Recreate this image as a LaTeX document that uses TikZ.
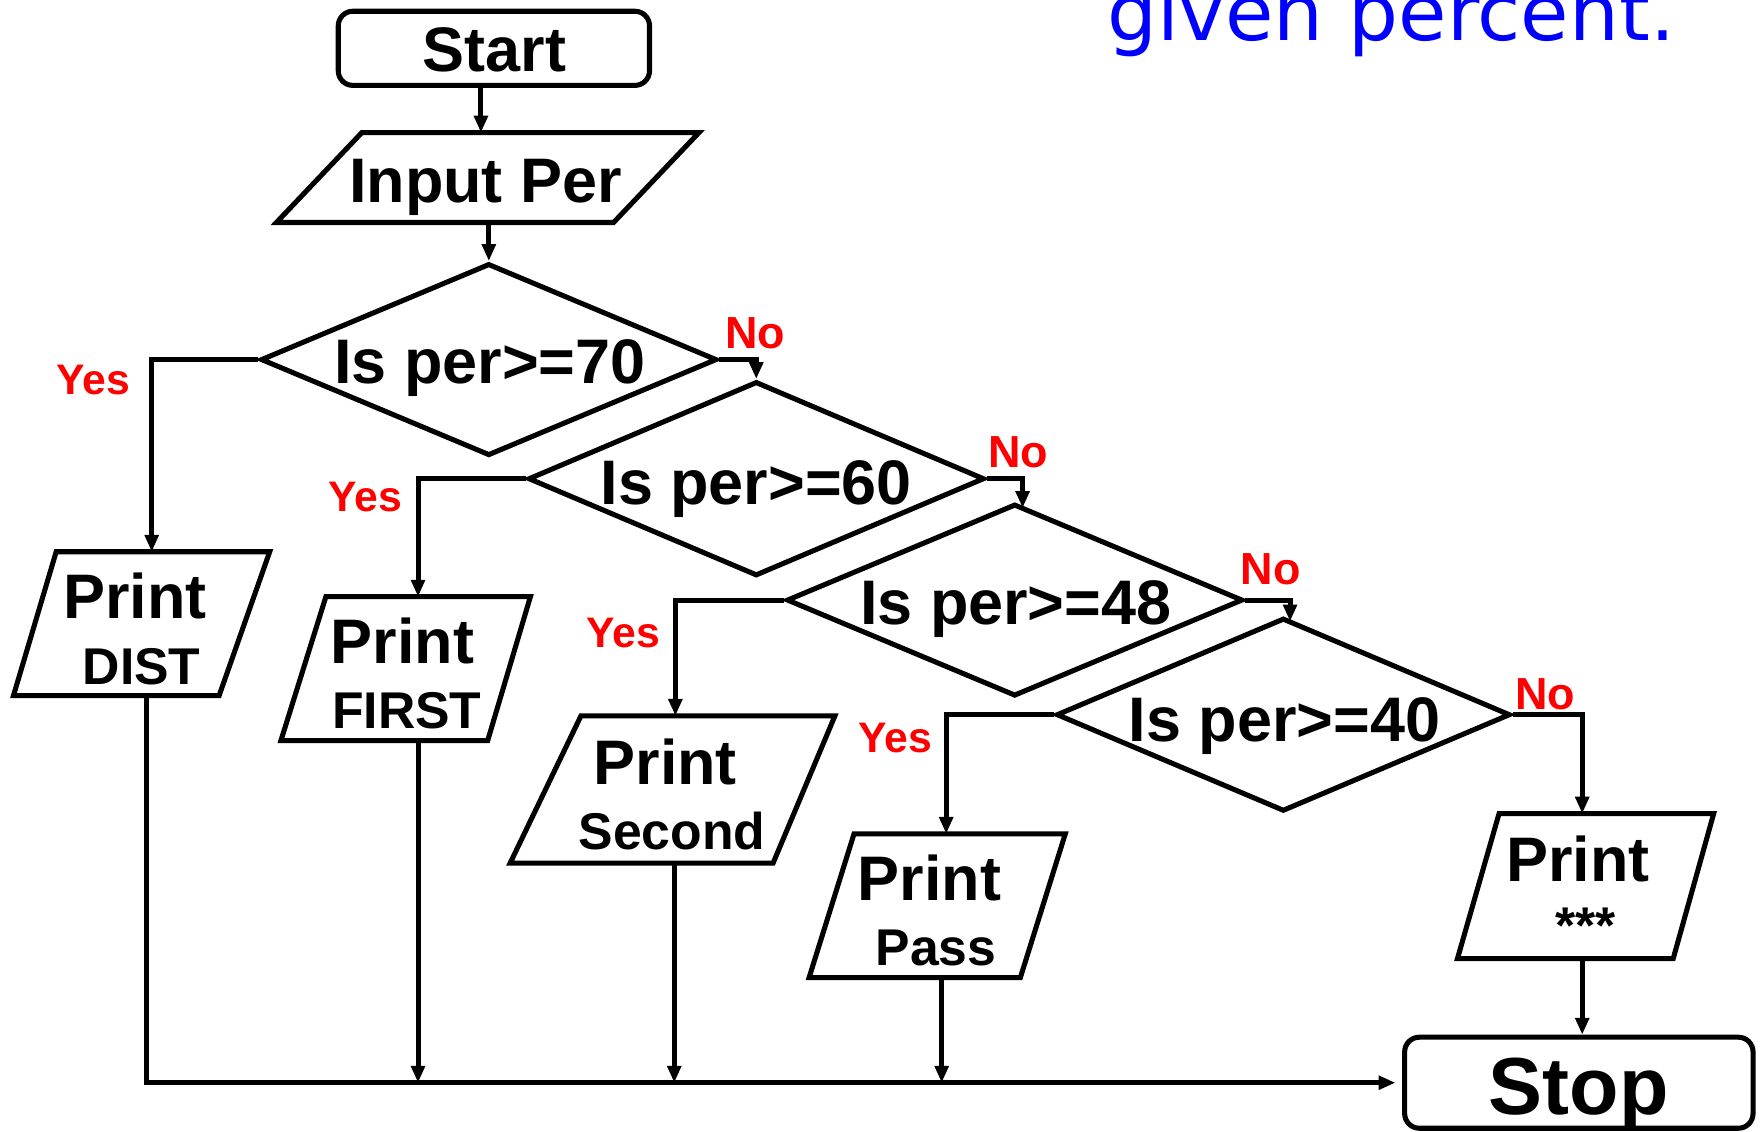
\documentclass[tikz,border=0pt]{standalone}
\usepackage{fontspec}
\setmainfont{Liberation Sans}
\newfontfamily\titlefont{DejaVu Sans}
\usetikzlibrary{arrows.meta,shapes.geometric}
\definecolor{lblred}{RGB}{255,0,0}
\definecolor{titleblue}{RGB}{0,0,255}
\begin{document}
\begin{tikzpicture}[x=1pt,y=-1pt,
  lw/.style={line width=4.5pt},
  term/.style={draw,lw,rounded corners=13pt,inner sep=0pt},
  dec/.style={draw,lw,diamond,inner sep=0pt},
  io/.style={draw,lw},
  flow/.style={lw,-{Triangle[length=15pt,width=12pt]}},
  plainline/.style={lw},
  bigtxt/.style={font=\fontsize{56}{60}\selectfont\bfseries,inner sep=0pt,anchor=base},
  smalltxt/.style={font=\fontsize{46}{50}\selectfont\bfseries,inner sep=0pt,anchor=base},
  hugetxt/.style={font=\fontsize{72}{76}\selectfont\bfseries,inner sep=0pt,anchor=base},
  yeslbl/.style={font=\fontsize{38}{40}\selectfont\bfseries,text=lblred,inner sep=0pt,anchor=base},
  nolbl/.style={font=\fontsize{40}{42}\selectfont\bfseries,text=lblred,inner sep=0pt,anchor=base},
]
\clip (0,0) rectangle (1568,1007);

% title (cut at the top)
\node[font=\titlefont\fontsize{70}{80}\selectfont,text=titleblue,anchor=base west,inner sep=0pt] (title) at (985,36) {given percent.};

% terminals
\node[term,minimum width=277pt,minimum height=66pt] (start) at (439.5,43) {};
\node[bigtxt] (startT) at (440,64) {Start};
\node[term,minimum width=310pt,minimum height=81pt] (stop) at (1405,963.5) {};
\node[hugetxt] (stopT) at (1405,992) {Stop};

% input
\draw[io] (322,118) -- (622,118) -- (546,198) -- (246,198) -- cycle;
\node[bigtxt] (inT) at (432,180) {Input Per};
\coordinate (in-top) at (428,118);
\coordinate (in-bot) at (435,196);

% decisions
\node[dec,minimum width=406pt,minimum height=171pt] (d1) at (435,320) {};
\node[bigtxt] (d1T) at (436,341) {Is per>=70};
\node[dec,minimum width=406pt,minimum height=173pt] (d2) at (673,426) {};
\node[bigtxt] (d2T) at (673,449) {Is per>=60};
\node[dec,minimum width=406pt,minimum height=171pt] (d3) at (903,534) {};
\node[bigtxt] (d3T) at (904,556) {Is per>=48};
\node[dec,minimum width=404pt,minimum height=172pt] (d4) at (1142,636) {};
\node[bigtxt] (d4T) at (1143,660) {Is per>=40};
\coordinate (d3-in) at (910,452);
\coordinate (d4-in) at (1148,553);

% outputs
\draw[io] (50,491) -- (240,491) -- (195,619) -- (12,619) -- cycle;
\node[bigtxt] (distP) at (120,550) {Print};
\node[smalltxt] (distT) at (126,609) {DIST};
\coordinate (dist-top) at (135,491);
\coordinate (dist-bot) at (130,619);

\draw[io] (290,531) -- (472,531) -- (434,659) -- (250,659) -- cycle;
\node[bigtxt] (firstP) at (358,590) {Print};
\node[smalltxt] (firstT) at (362,648) {FIRST};
\coordinate (first-top) at (372,531);
\coordinate (first-bot) at (372,659);

\draw[io] (517,637) -- (743,637) -- (688,768) -- (454,768) -- cycle;
\node[bigtxt] (secP) at (592,698) {Print};
\node[smalltxt] (secT) at (598,756) {Second};
\coordinate (sec-top) at (601,637);
\coordinate (sec-bot) at (600,768);

\draw[io] (760,742) -- (948,742) -- (908,870) -- (720,870) -- cycle;
\node[bigtxt] (passP) at (827,801) {Print};
\node[smalltxt] (passT) at (833,859) {Pass};
\coordinate (pass-top) at (842,742);
\coordinate (pass-bot) at (838,870);

\draw[io] (1334,724) -- (1525,724) -- (1489,853) -- (1297,853) -- cycle;
\node[bigtxt] (starP) at (1404,784) {Print};
\node[smalltxt] (starT) at (1411,840) {***};
\coordinate (star-top) at (1408,724);
\coordinate (star-bot) at (1408,853);

% labels
\node[yeslbl] (y1) at (83,351) {Yes};
\node[yeslbl] (y2) at (325,455) {Yes};
\node[yeslbl] (y3) at (555,576) {Yes};
\node[yeslbl] (y4) at (797,670) {Yes};
\node[nolbl] (n1) at (672,310) {No};
\node[nolbl] (n2) at (906,416) {No};
\node[nolbl] (n3) at (1131,520) {No};
\node[nolbl] (n4) at (1375,631) {No};

% connectors
\draw[flow] (start.south -| in-top) -- (in-top);
\draw[flow] (in-bot) -- (d1.north);
\draw[flow] (d1.west) -| (dist-top);
\draw[flow] (d1.east) -| (d2.north);
\draw[flow] (d2.west) -| (first-top);
\draw[flow] (d2.east) -| (d3-in);
\draw[flow] (d3.west) -| (sec-top);
\draw[flow] (d3.east) -| (d4-in);
\draw[flow] (d4.west) -| (pass-top);
\draw[flow] (d4.east) -| (star-top);

\draw[flow,shorten >=6pt] (dist-bot) |- (stop.west);
\draw[flow] (first-bot) -- (first-bot |- stop.west);
\draw[flow] (sec-bot) -- (sec-bot |- stop.west);
\draw[flow] (pass-bot) -- (pass-bot |- stop.west);
\draw[flow] (star-bot) -- (star-bot |- stop.north);
\end{tikzpicture}
\end{document}
